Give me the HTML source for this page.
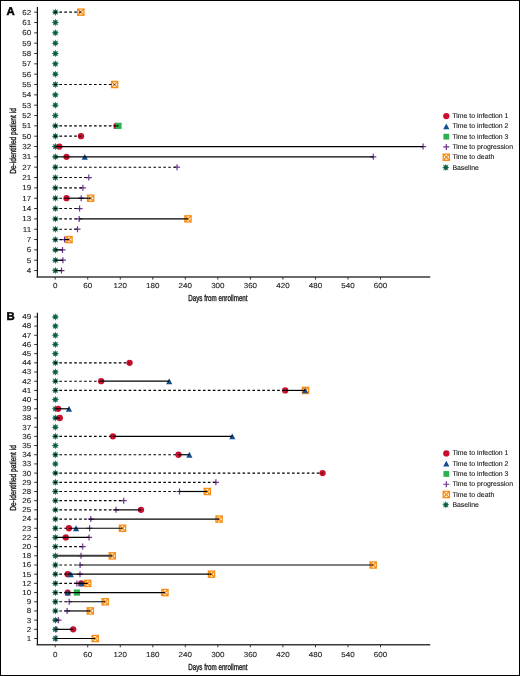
<!DOCTYPE html>
<html><head><meta charset="utf-8"><style>
html,body{margin:0;padding:0;background:#fff;}
body{width:520px;height:676px;overflow:hidden;}
svg{display:block;will-change:transform;}
text{font-family:"Liberation Sans",sans-serif;text-rendering:geometricPrecision;}
.tl{font-size:7.3px;fill:#222;stroke:#222;stroke-width:0.1px;}
.lg{font-size:6.9px;fill:#222;stroke:#222;stroke-width:0.12px;}
.ax{font-size:8.8px;fill:#1a1a1a;stroke:#1a1a1a;stroke-width:0.35px;}
.lt{font-size:11.4px;font-weight:bold;fill:#000;stroke:#000;stroke-width:0.45px;}
</style></head><body>
<svg width="520" height="676" viewBox="0 0 520 676">
<rect x="0.5" y="0.5" width="519" height="675" fill="#fff" stroke="#000" stroke-width="1"/>
<line x1="37.4" y1="7.0" x2="37.4" y2="277.6" stroke="#111" stroke-width="1.2"/>
<line x1="36.6" y1="277.0" x2="430.2" y2="277.0" stroke="#3a3a3a" stroke-width="1.5"/>
<line x1="34.2" y1="12.16" x2="37.2" y2="12.16" stroke="#333" stroke-width="1"/>
<text transform="translate(31.2,14.56) scale(1.1,1)" class="tl" text-anchor="end">62</text>
<line x1="34.2" y1="22.50" x2="37.2" y2="22.50" stroke="#333" stroke-width="1"/>
<text transform="translate(31.2,24.90) scale(1.1,1)" class="tl" text-anchor="end">61</text>
<line x1="34.2" y1="32.83" x2="37.2" y2="32.83" stroke="#333" stroke-width="1"/>
<text transform="translate(31.2,35.23) scale(1.1,1)" class="tl" text-anchor="end">60</text>
<line x1="34.2" y1="43.17" x2="37.2" y2="43.17" stroke="#333" stroke-width="1"/>
<text transform="translate(31.2,45.57) scale(1.1,1)" class="tl" text-anchor="end">59</text>
<line x1="34.2" y1="53.50" x2="37.2" y2="53.50" stroke="#333" stroke-width="1"/>
<text transform="translate(31.2,55.90) scale(1.1,1)" class="tl" text-anchor="end">58</text>
<line x1="34.2" y1="63.84" x2="37.2" y2="63.84" stroke="#333" stroke-width="1"/>
<text transform="translate(31.2,66.24) scale(1.1,1)" class="tl" text-anchor="end">57</text>
<line x1="34.2" y1="74.18" x2="37.2" y2="74.18" stroke="#333" stroke-width="1"/>
<text transform="translate(31.2,76.58) scale(1.1,1)" class="tl" text-anchor="end">56</text>
<line x1="34.2" y1="84.51" x2="37.2" y2="84.51" stroke="#333" stroke-width="1"/>
<text transform="translate(31.2,86.91) scale(1.1,1)" class="tl" text-anchor="end">55</text>
<line x1="34.2" y1="94.85" x2="37.2" y2="94.85" stroke="#333" stroke-width="1"/>
<text transform="translate(31.2,97.25) scale(1.1,1)" class="tl" text-anchor="end">54</text>
<line x1="34.2" y1="105.18" x2="37.2" y2="105.18" stroke="#333" stroke-width="1"/>
<text transform="translate(31.2,107.58) scale(1.1,1)" class="tl" text-anchor="end">53</text>
<line x1="34.2" y1="115.52" x2="37.2" y2="115.52" stroke="#333" stroke-width="1"/>
<text transform="translate(31.2,117.92) scale(1.1,1)" class="tl" text-anchor="end">52</text>
<line x1="34.2" y1="125.86" x2="37.2" y2="125.86" stroke="#333" stroke-width="1"/>
<text transform="translate(31.2,128.26) scale(1.1,1)" class="tl" text-anchor="end">51</text>
<line x1="34.2" y1="136.19" x2="37.2" y2="136.19" stroke="#333" stroke-width="1"/>
<text transform="translate(31.2,138.59) scale(1.1,1)" class="tl" text-anchor="end">50</text>
<line x1="34.2" y1="146.53" x2="37.2" y2="146.53" stroke="#333" stroke-width="1"/>
<text transform="translate(31.2,148.93) scale(1.1,1)" class="tl" text-anchor="end">32</text>
<line x1="34.2" y1="156.86" x2="37.2" y2="156.86" stroke="#333" stroke-width="1"/>
<text transform="translate(31.2,159.26) scale(1.1,1)" class="tl" text-anchor="end">31</text>
<line x1="34.2" y1="167.20" x2="37.2" y2="167.20" stroke="#333" stroke-width="1"/>
<text transform="translate(31.2,169.60) scale(1.1,1)" class="tl" text-anchor="end">27</text>
<line x1="34.2" y1="177.54" x2="37.2" y2="177.54" stroke="#333" stroke-width="1"/>
<text transform="translate(31.2,179.94) scale(1.1,1)" class="tl" text-anchor="end">21</text>
<line x1="34.2" y1="187.87" x2="37.2" y2="187.87" stroke="#333" stroke-width="1"/>
<text transform="translate(31.2,190.27) scale(1.1,1)" class="tl" text-anchor="end">19</text>
<line x1="34.2" y1="198.21" x2="37.2" y2="198.21" stroke="#333" stroke-width="1"/>
<text transform="translate(31.2,200.61) scale(1.1,1)" class="tl" text-anchor="end">17</text>
<line x1="34.2" y1="208.54" x2="37.2" y2="208.54" stroke="#333" stroke-width="1"/>
<text transform="translate(31.2,210.94) scale(1.1,1)" class="tl" text-anchor="end">14</text>
<line x1="34.2" y1="218.88" x2="37.2" y2="218.88" stroke="#333" stroke-width="1"/>
<text transform="translate(31.2,221.28) scale(1.1,1)" class="tl" text-anchor="end">13</text>
<line x1="34.2" y1="229.22" x2="37.2" y2="229.22" stroke="#333" stroke-width="1"/>
<text transform="translate(31.2,231.62) scale(1.1,1)" class="tl" text-anchor="end">11</text>
<line x1="34.2" y1="239.55" x2="37.2" y2="239.55" stroke="#333" stroke-width="1"/>
<text transform="translate(31.2,241.95) scale(1.1,1)" class="tl" text-anchor="end">7</text>
<line x1="34.2" y1="249.89" x2="37.2" y2="249.89" stroke="#333" stroke-width="1"/>
<text transform="translate(31.2,252.29) scale(1.1,1)" class="tl" text-anchor="end">6</text>
<line x1="34.2" y1="260.22" x2="37.2" y2="260.22" stroke="#333" stroke-width="1"/>
<text transform="translate(31.2,262.62) scale(1.1,1)" class="tl" text-anchor="end">5</text>
<line x1="34.2" y1="270.56" x2="37.2" y2="270.56" stroke="#333" stroke-width="1"/>
<text transform="translate(31.2,272.96) scale(1.1,1)" class="tl" text-anchor="end">4</text>
<line x1="55.20" y1="277.0" x2="55.20" y2="279.6" stroke="#333" stroke-width="1"/>
<text transform="translate(55.20,288.20) scale(1.1,1)" class="tl" text-anchor="middle">0</text>
<line x1="87.73" y1="277.0" x2="87.73" y2="279.6" stroke="#333" stroke-width="1"/>
<text transform="translate(87.73,288.20) scale(1.1,1)" class="tl" text-anchor="middle">60</text>
<line x1="120.26" y1="277.0" x2="120.26" y2="279.6" stroke="#333" stroke-width="1"/>
<text transform="translate(120.26,288.20) scale(1.1,1)" class="tl" text-anchor="middle">120</text>
<line x1="152.79" y1="277.0" x2="152.79" y2="279.6" stroke="#333" stroke-width="1"/>
<text transform="translate(152.79,288.20) scale(1.1,1)" class="tl" text-anchor="middle">180</text>
<line x1="185.32" y1="277.0" x2="185.32" y2="279.6" stroke="#333" stroke-width="1"/>
<text transform="translate(185.32,288.20) scale(1.1,1)" class="tl" text-anchor="middle">240</text>
<line x1="217.85" y1="277.0" x2="217.85" y2="279.6" stroke="#333" stroke-width="1"/>
<text transform="translate(217.85,288.20) scale(1.1,1)" class="tl" text-anchor="middle">300</text>
<line x1="250.38" y1="277.0" x2="250.38" y2="279.6" stroke="#333" stroke-width="1"/>
<text transform="translate(250.38,288.20) scale(1.1,1)" class="tl" text-anchor="middle">360</text>
<line x1="282.91" y1="277.0" x2="282.91" y2="279.6" stroke="#333" stroke-width="1"/>
<text transform="translate(282.91,288.20) scale(1.1,1)" class="tl" text-anchor="middle">420</text>
<line x1="315.44" y1="277.0" x2="315.44" y2="279.6" stroke="#333" stroke-width="1"/>
<text transform="translate(315.44,288.20) scale(1.1,1)" class="tl" text-anchor="middle">480</text>
<line x1="347.97" y1="277.0" x2="347.97" y2="279.6" stroke="#333" stroke-width="1"/>
<text transform="translate(347.97,288.20) scale(1.1,1)" class="tl" text-anchor="middle">540</text>
<line x1="380.50" y1="277.0" x2="380.50" y2="279.6" stroke="#333" stroke-width="1"/>
<text transform="translate(380.50,288.20) scale(1.1,1)" class="tl" text-anchor="middle">600</text>
<polygon points="55.35,8.41 56.13,10.27 58.00,9.51 57.24,11.38 59.10,12.16 57.24,12.94 58.00,14.81 56.13,14.05 55.35,15.91 54.57,14.05 52.70,14.81 53.46,12.94 51.60,12.16 53.46,11.38 52.70,9.51 54.57,10.27" fill="#1e7360"/><circle cx="55.35" cy="12.16" r="1.5" fill="#0b5a3f"/>
<rect x="77.70" y="9.06" width="6.20" height="6.20" fill="#fff" stroke="#f88d14" stroke-width="1.3"/><path d="M77.70,9.06L83.90,15.26M83.90,9.06L77.70,15.26" stroke="#f88d14" stroke-width="1.35"/>
<line x1="54.40" y1="12.16" x2="80.80" y2="12.16" stroke="#000" stroke-width="1.15" stroke-dasharray="2.65 2.3"/>
<polygon points="55.35,18.75 56.13,20.60 58.00,19.84 57.24,21.71 59.10,22.50 57.24,23.28 58.00,25.15 56.13,24.39 55.35,26.25 54.57,24.39 52.70,25.15 53.46,23.28 51.60,22.50 53.46,21.71 52.70,19.84 54.57,20.60" fill="#1e7360"/><circle cx="55.35" cy="22.50" r="1.5" fill="#0b5a3f"/>
<polygon points="55.35,29.08 56.13,30.94 58.00,30.18 57.24,32.05 59.10,32.83 57.24,33.62 58.00,35.48 56.13,34.73 55.35,36.58 54.57,34.73 52.70,35.48 53.46,33.62 51.60,32.83 53.46,32.05 52.70,30.18 54.57,30.94" fill="#1e7360"/><circle cx="55.35" cy="32.83" r="1.5" fill="#0b5a3f"/>
<polygon points="55.35,39.42 56.13,41.27 58.00,40.52 57.24,42.38 59.10,43.17 57.24,43.95 58.00,45.82 56.13,45.06 55.35,46.92 54.57,45.06 52.70,45.82 53.46,43.95 51.60,43.17 53.46,42.38 52.70,40.52 54.57,41.27" fill="#1e7360"/><circle cx="55.35" cy="43.17" r="1.5" fill="#0b5a3f"/>
<polygon points="55.35,49.75 56.13,51.61 58.00,50.85 57.24,52.72 59.10,53.50 57.24,54.29 58.00,56.16 56.13,55.40 55.35,57.25 54.57,55.40 52.70,56.16 53.46,54.29 51.60,53.50 53.46,52.72 52.70,50.85 54.57,51.61" fill="#1e7360"/><circle cx="55.35" cy="53.50" r="1.5" fill="#0b5a3f"/>
<polygon points="55.35,60.09 56.13,61.95 58.00,61.19 57.24,63.06 59.10,63.84 57.24,64.62 58.00,66.49 56.13,65.73 55.35,67.59 54.57,65.73 52.70,66.49 53.46,64.62 51.60,63.84 53.46,63.06 52.70,61.19 54.57,61.95" fill="#1e7360"/><circle cx="55.35" cy="63.84" r="1.5" fill="#0b5a3f"/>
<polygon points="55.35,70.43 56.13,72.28 58.00,71.52 57.24,73.39 59.10,74.18 57.24,74.96 58.00,76.83 56.13,76.07 55.35,77.93 54.57,76.07 52.70,76.83 53.46,74.96 51.60,74.18 53.46,73.39 52.70,71.52 54.57,72.28" fill="#1e7360"/><circle cx="55.35" cy="74.18" r="1.5" fill="#0b5a3f"/>
<polygon points="55.35,80.76 56.13,82.62 58.00,81.86 57.24,83.73 59.10,84.51 57.24,85.30 58.00,87.16 56.13,86.41 55.35,88.26 54.57,86.41 52.70,87.16 53.46,85.30 51.60,84.51 53.46,83.73 52.70,81.86 54.57,82.62" fill="#1e7360"/><circle cx="55.35" cy="84.51" r="1.5" fill="#0b5a3f"/>
<rect x="111.50" y="81.41" width="6.20" height="6.20" fill="#fff" stroke="#f88d14" stroke-width="1.3"/><path d="M111.50,81.41L117.70,87.61M117.70,81.41L111.50,87.61" stroke="#f88d14" stroke-width="1.35"/>
<line x1="54.40" y1="84.51" x2="114.60" y2="84.51" stroke="#000" stroke-width="1.15" stroke-dasharray="2.65 2.3"/>
<polygon points="55.35,91.10 56.13,92.95 58.00,92.20 57.24,94.06 59.10,94.85 57.24,95.63 58.00,97.50 56.13,96.74 55.35,98.60 54.57,96.74 52.70,97.50 53.46,95.63 51.60,94.85 53.46,94.06 52.70,92.20 54.57,92.95" fill="#1e7360"/><circle cx="55.35" cy="94.85" r="1.5" fill="#0b5a3f"/>
<polygon points="55.35,101.43 56.13,103.29 58.00,102.53 57.24,104.40 59.10,105.18 57.24,105.97 58.00,107.84 56.13,107.08 55.35,108.93 54.57,107.08 52.70,107.84 53.46,105.97 51.60,105.18 53.46,104.40 52.70,102.53 54.57,103.29" fill="#1e7360"/><circle cx="55.35" cy="105.18" r="1.5" fill="#0b5a3f"/>
<polygon points="55.35,111.77 56.13,113.63 58.00,112.87 57.24,114.74 59.10,115.52 57.24,116.30 58.00,118.17 56.13,117.41 55.35,119.27 54.57,117.41 52.70,118.17 53.46,116.30 51.60,115.52 53.46,114.74 52.70,112.87 54.57,113.63" fill="#1e7360"/><circle cx="55.35" cy="115.52" r="1.5" fill="#0b5a3f"/>
<polygon points="55.35,122.11 56.13,123.96 58.00,123.20 57.24,125.07 59.10,125.86 57.24,126.64 58.00,128.51 56.13,127.75 55.35,129.61 54.57,127.75 52.70,128.51 53.46,126.64 51.60,125.86 53.46,125.07 52.70,123.20 54.57,123.96" fill="#1e7360"/><circle cx="55.35" cy="125.86" r="1.5" fill="#0b5a3f"/>
<polygon points="113.40,128.80 119.60,128.80 116.50,122.91" fill="#124e90"/>
<circle cx="116.50" cy="125.86" r="3.15" fill="#c8102e"/>
<rect x="115.40" y="122.76" width="6.2" height="6.2" fill="#2bb24c"/>
<line x1="54.40" y1="125.86" x2="116.50" y2="125.86" stroke="#000" stroke-width="1.15" stroke-dasharray="2.65 2.3"/>
<line x1="116.50" y1="125.86" x2="118.50" y2="125.86" stroke="#000" stroke-width="1.2"/>
<polygon points="55.35,132.44 56.13,134.30 58.00,133.54 57.24,135.41 59.10,136.19 57.24,136.98 58.00,138.84 56.13,138.09 55.35,139.94 54.57,138.09 52.70,138.84 53.46,136.98 51.60,136.19 53.46,135.41 52.70,133.54 54.57,134.30" fill="#1e7360"/><circle cx="55.35" cy="136.19" r="1.5" fill="#0b5a3f"/>
<circle cx="81.00" cy="136.19" r="3.15" fill="#c8102e"/>
<line x1="54.40" y1="136.19" x2="81.00" y2="136.19" stroke="#000" stroke-width="1.15" stroke-dasharray="2.65 2.3"/>
<polygon points="55.35,142.78 56.13,144.63 58.00,143.88 57.24,145.74 59.10,146.53 57.24,147.31 58.00,149.18 56.13,148.42 55.35,150.28 54.57,148.42 52.70,149.18 53.46,147.31 51.60,146.53 53.46,145.74 52.70,143.88 54.57,144.63" fill="#1e7360"/><circle cx="55.35" cy="146.53" r="1.5" fill="#0b5a3f"/>
<circle cx="59.40" cy="146.53" r="3.15" fill="#c8102e"/>
<path d="M420.10,146.53H426.10M423.10,143.53V149.53" stroke="#6e3290" stroke-width="1.2" fill="none"/>
<line x1="55.35" y1="146.53" x2="59.40" y2="146.53" stroke="#000" stroke-width="1.2"/>
<line x1="59.40" y1="146.53" x2="423.10" y2="146.53" stroke="#000" stroke-width="1.2"/>
<polygon points="55.35,153.11 56.13,154.97 58.00,154.21 57.24,156.08 59.10,156.86 57.24,157.65 58.00,159.52 56.13,158.76 55.35,160.61 54.57,158.76 52.70,159.52 53.46,157.65 51.60,156.86 53.46,156.08 52.70,154.21 54.57,154.97" fill="#1e7360"/><circle cx="55.35" cy="156.86" r="1.5" fill="#0b5a3f"/>
<circle cx="66.50" cy="156.86" r="3.15" fill="#c8102e"/>
<polygon points="81.70,159.81 87.90,159.81 84.80,153.92" fill="#124e90"/>
<path d="M370.30,156.86H376.30M373.30,153.86V159.86" stroke="#6e3290" stroke-width="1.2" fill="none"/>
<line x1="55.35" y1="156.86" x2="66.50" y2="156.86" stroke="#000" stroke-width="1.2"/>
<line x1="66.50" y1="156.86" x2="373.30" y2="156.86" stroke="#000" stroke-width="1.2"/>
<polygon points="55.35,163.45 56.13,165.31 58.00,164.55 57.24,166.42 59.10,167.20 57.24,167.98 58.00,169.85 56.13,169.09 55.35,170.95 54.57,169.09 52.70,169.85 53.46,167.98 51.60,167.20 53.46,166.42 52.70,164.55 54.57,165.31" fill="#1e7360"/><circle cx="55.35" cy="167.20" r="1.5" fill="#0b5a3f"/>
<path d="M174.00,167.20H180.00M177.00,164.20V170.20" stroke="#6e3290" stroke-width="1.2" fill="none"/>
<line x1="54.40" y1="167.20" x2="177.00" y2="167.20" stroke="#000" stroke-width="1.15" stroke-dasharray="2.65 2.3"/>
<polygon points="55.35,173.79 56.13,175.64 58.00,174.88 57.24,176.75 59.10,177.54 57.24,178.32 58.00,180.19 56.13,179.43 55.35,181.29 54.57,179.43 52.70,180.19 53.46,178.32 51.60,177.54 53.46,176.75 52.70,174.88 54.57,175.64" fill="#1e7360"/><circle cx="55.35" cy="177.54" r="1.5" fill="#0b5a3f"/>
<path d="M85.80,177.54H91.80M88.80,174.54V180.54" stroke="#6e3290" stroke-width="1.2" fill="none"/>
<line x1="54.40" y1="177.54" x2="88.80" y2="177.54" stroke="#000" stroke-width="1.15" stroke-dasharray="2.65 2.3"/>
<polygon points="55.35,184.12 56.13,185.98 58.00,185.22 57.24,187.09 59.10,187.87 57.24,188.66 58.00,190.52 56.13,189.77 55.35,191.62 54.57,189.77 52.70,190.52 53.46,188.66 51.60,187.87 53.46,187.09 52.70,185.22 54.57,185.98" fill="#1e7360"/><circle cx="55.35" cy="187.87" r="1.5" fill="#0b5a3f"/>
<path d="M79.90,187.87H85.90M82.90,184.87V190.87" stroke="#6e3290" stroke-width="1.2" fill="none"/>
<line x1="54.40" y1="187.87" x2="82.90" y2="187.87" stroke="#000" stroke-width="1.15" stroke-dasharray="2.65 2.3"/>
<polygon points="55.35,194.46 56.13,196.31 58.00,195.56 57.24,197.42 59.10,198.21 57.24,198.99 58.00,200.86 56.13,200.10 55.35,201.96 54.57,200.10 52.70,200.86 53.46,198.99 51.60,198.21 53.46,197.42 52.70,195.56 54.57,196.31" fill="#1e7360"/><circle cx="55.35" cy="198.21" r="1.5" fill="#0b5a3f"/>
<rect x="87.50" y="195.11" width="6.20" height="6.20" fill="#fff" stroke="#f88d14" stroke-width="1.3"/><path d="M87.50,195.11L93.70,201.31M93.70,195.11L87.50,201.31" stroke="#f88d14" stroke-width="1.35"/>
<circle cx="66.50" cy="198.21" r="3.15" fill="#c8102e"/>
<path d="M78.20,198.21H84.20M81.20,195.21V201.21" stroke="#6e3290" stroke-width="1.2" fill="none"/>
<line x1="54.40" y1="198.21" x2="66.50" y2="198.21" stroke="#000" stroke-width="1.15" stroke-dasharray="2.65 2.3"/>
<line x1="66.50" y1="198.21" x2="90.60" y2="198.21" stroke="#000" stroke-width="1.2"/>
<polygon points="55.35,204.79 56.13,206.65 58.00,205.89 57.24,207.76 59.10,208.54 57.24,209.33 58.00,211.20 56.13,210.44 55.35,212.29 54.57,210.44 52.70,211.20 53.46,209.33 51.60,208.54 53.46,207.76 52.70,205.89 54.57,206.65" fill="#1e7360"/><circle cx="55.35" cy="208.54" r="1.5" fill="#0b5a3f"/>
<path d="M76.60,208.54H82.60M79.60,205.54V211.54" stroke="#6e3290" stroke-width="1.2" fill="none"/>
<line x1="54.40" y1="208.54" x2="79.60" y2="208.54" stroke="#000" stroke-width="1.15" stroke-dasharray="2.65 2.3"/>
<polygon points="55.35,215.13 56.13,216.99 58.00,216.23 57.24,218.10 59.10,218.88 57.24,219.66 58.00,221.53 56.13,220.77 55.35,222.63 54.57,220.77 52.70,221.53 53.46,219.66 51.60,218.88 53.46,218.10 52.70,216.23 54.57,216.99" fill="#1e7360"/><circle cx="55.35" cy="218.88" r="1.5" fill="#0b5a3f"/>
<rect x="184.90" y="215.78" width="6.20" height="6.20" fill="#fff" stroke="#f88d14" stroke-width="1.3"/><path d="M184.90,215.78L191.10,221.98M191.10,215.78L184.90,221.98" stroke="#f88d14" stroke-width="1.35"/>
<path d="M76.20,218.88H82.20M79.20,215.88V221.88" stroke="#6e3290" stroke-width="1.2" fill="none"/>
<line x1="54.40" y1="218.88" x2="79.20" y2="218.88" stroke="#000" stroke-width="1.15" stroke-dasharray="2.65 2.3"/>
<line x1="79.20" y1="218.88" x2="188.00" y2="218.88" stroke="#000" stroke-width="1.2"/>
<polygon points="55.35,225.47 56.13,227.32 58.00,226.56 57.24,228.43 59.10,229.22 57.24,230.00 58.00,231.87 56.13,231.11 55.35,232.97 54.57,231.11 52.70,231.87 53.46,230.00 51.60,229.22 53.46,228.43 52.70,226.56 54.57,227.32" fill="#1e7360"/><circle cx="55.35" cy="229.22" r="1.5" fill="#0b5a3f"/>
<path d="M74.50,229.22H80.50M77.50,226.22V232.22" stroke="#6e3290" stroke-width="1.2" fill="none"/>
<line x1="54.40" y1="229.22" x2="77.50" y2="229.22" stroke="#000" stroke-width="1.15" stroke-dasharray="2.65 2.3"/>
<polygon points="55.35,235.80 56.13,237.66 58.00,236.90 57.24,238.77 59.10,239.55 57.24,240.34 58.00,242.20 56.13,241.45 55.35,243.30 54.57,241.45 52.70,242.20 53.46,240.34 51.60,239.55 53.46,238.77 52.70,236.90 54.57,237.66" fill="#1e7360"/><circle cx="55.35" cy="239.55" r="1.5" fill="#0b5a3f"/>
<path d="M61.60,239.55H67.60M64.60,236.55V242.55" stroke="#6e3290" stroke-width="1.2" fill="none"/>
<rect x="65.90" y="236.45" width="6.20" height="6.20" fill="#fff" stroke="#f88d14" stroke-width="1.3"/><path d="M65.90,236.45L72.10,242.65M72.10,236.45L65.90,242.65" stroke="#f88d14" stroke-width="1.35"/>
<line x1="54.40" y1="239.55" x2="64.60" y2="239.55" stroke="#000" stroke-width="1.15" stroke-dasharray="2.65 2.3"/>
<line x1="64.60" y1="239.55" x2="69.00" y2="239.55" stroke="#000" stroke-width="1.2"/>
<polygon points="55.35,246.14 56.13,247.99 58.00,247.24 57.24,249.10 59.10,249.89 57.24,250.67 58.00,252.54 56.13,251.78 55.35,253.64 54.57,251.78 52.70,252.54 53.46,250.67 51.60,249.89 53.46,249.10 52.70,247.24 54.57,247.99" fill="#1e7360"/><circle cx="55.35" cy="249.89" r="1.5" fill="#0b5a3f"/>
<path d="M59.50,249.89H65.50M62.50,246.89V252.89" stroke="#6e3290" stroke-width="1.2" fill="none"/>
<line x1="55.35" y1="249.89" x2="62.50" y2="249.89" stroke="#000" stroke-width="1.2"/>
<polygon points="55.35,256.47 56.13,258.33 58.00,257.57 57.24,259.44 59.10,260.22 57.24,261.01 58.00,262.88 56.13,262.12 55.35,263.97 54.57,262.12 52.70,262.88 53.46,261.01 51.60,260.22 53.46,259.44 52.70,257.57 54.57,258.33" fill="#1e7360"/><circle cx="55.35" cy="260.22" r="1.5" fill="#0b5a3f"/>
<path d="M59.90,260.22H65.90M62.90,257.22V263.22" stroke="#6e3290" stroke-width="1.2" fill="none"/>
<line x1="55.35" y1="260.22" x2="62.90" y2="260.22" stroke="#000" stroke-width="1.2"/>
<polygon points="55.35,266.81 56.13,268.67 58.00,267.91 57.24,269.78 59.10,270.56 57.24,271.34 58.00,273.21 56.13,272.45 55.35,274.31 54.57,272.45 52.70,273.21 53.46,271.34 51.60,270.56 53.46,269.78 52.70,267.91 54.57,268.67" fill="#1e7360"/><circle cx="55.35" cy="270.56" r="1.5" fill="#0b5a3f"/>
<path d="M58.50,270.56H64.50M61.50,267.56V273.56" stroke="#6e3290" stroke-width="1.2" fill="none"/>
<line x1="55.35" y1="270.56" x2="61.50" y2="270.56" stroke="#000" stroke-width="1.2"/>
<text x="6.6" y="14.9" class="lt">A</text>
<text transform="translate(15.5,141.0) rotate(-90) scale(0.75,1)" class="ax" text-anchor="middle">De-identified patient id</text>
<text transform="translate(217.9,300.60) scale(0.71,1)" class="ax" text-anchor="middle">Days from enrollment</text>
<circle cx="446.30" cy="116.10" r="3.15" fill="#c8102e"/>
<text x="452.4" y="118.10" class="lg">Time to infection 1</text>
<polygon points="443.20,129.32 449.40,129.32 446.30,123.44" fill="#124e90"/>
<text x="452.4" y="128.38" class="lg">Time to infection 2</text>
<rect x="443.40" y="133.76" width="5.8" height="5.8" fill="#2bb24c"/>
<text x="452.4" y="138.66" class="lg">Time to infection 3</text>
<path d="M443.30,146.94H449.30M446.30,143.94V149.94" stroke="#6e3290" stroke-width="1.2" fill="none"/>
<text x="452.4" y="148.94" class="lg">Time to progression</text>
<rect x="443.20" y="154.12" width="6.20" height="6.20" fill="#fff" stroke="#f88d14" stroke-width="1.3"/><path d="M443.20,154.12L449.40,160.32M449.40,154.12L443.20,160.32" stroke="#f88d14" stroke-width="1.35"/>
<text x="452.4" y="159.22" class="lg">Time to death</text>
<polygon points="445.80,163.75 446.58,165.61 448.45,164.85 447.69,166.72 449.55,167.50 447.69,168.28 448.45,170.15 446.58,169.39 445.80,171.25 445.02,169.39 443.15,170.15 443.91,168.28 442.05,167.50 443.91,166.72 443.15,164.85 445.02,165.61" fill="#1e7360"/><circle cx="445.80" cy="167.50" r="1.5" fill="#0b5a3f"/>
<text x="452.4" y="169.50" class="lg">Baseline</text>
<line x1="37.4" y1="312.7" x2="37.4" y2="645.3000000000001" stroke="#111" stroke-width="1.2"/>
<line x1="36.6" y1="644.7" x2="430.2" y2="644.7" stroke="#3a3a3a" stroke-width="1.5"/>
<line x1="34.2" y1="316.90" x2="37.2" y2="316.90" stroke="#333" stroke-width="1"/>
<text transform="translate(31.2,319.30) scale(1.1,1)" class="tl" text-anchor="end">49</text>
<line x1="34.2" y1="326.09" x2="37.2" y2="326.09" stroke="#333" stroke-width="1"/>
<text transform="translate(31.2,328.49) scale(1.1,1)" class="tl" text-anchor="end">48</text>
<line x1="34.2" y1="335.28" x2="37.2" y2="335.28" stroke="#333" stroke-width="1"/>
<text transform="translate(31.2,337.68) scale(1.1,1)" class="tl" text-anchor="end">47</text>
<line x1="34.2" y1="344.47" x2="37.2" y2="344.47" stroke="#333" stroke-width="1"/>
<text transform="translate(31.2,346.87) scale(1.1,1)" class="tl" text-anchor="end">46</text>
<line x1="34.2" y1="353.66" x2="37.2" y2="353.66" stroke="#333" stroke-width="1"/>
<text transform="translate(31.2,356.06) scale(1.1,1)" class="tl" text-anchor="end">45</text>
<line x1="34.2" y1="362.84" x2="37.2" y2="362.84" stroke="#333" stroke-width="1"/>
<text transform="translate(31.2,365.24) scale(1.1,1)" class="tl" text-anchor="end">44</text>
<line x1="34.2" y1="372.03" x2="37.2" y2="372.03" stroke="#333" stroke-width="1"/>
<text transform="translate(31.2,374.43) scale(1.1,1)" class="tl" text-anchor="end">43</text>
<line x1="34.2" y1="381.22" x2="37.2" y2="381.22" stroke="#333" stroke-width="1"/>
<text transform="translate(31.2,383.62) scale(1.1,1)" class="tl" text-anchor="end">42</text>
<line x1="34.2" y1="390.41" x2="37.2" y2="390.41" stroke="#333" stroke-width="1"/>
<text transform="translate(31.2,392.81) scale(1.1,1)" class="tl" text-anchor="end">41</text>
<line x1="34.2" y1="399.60" x2="37.2" y2="399.60" stroke="#333" stroke-width="1"/>
<text transform="translate(31.2,402.00) scale(1.1,1)" class="tl" text-anchor="end">40</text>
<line x1="34.2" y1="408.79" x2="37.2" y2="408.79" stroke="#333" stroke-width="1"/>
<text transform="translate(31.2,411.19) scale(1.1,1)" class="tl" text-anchor="end">39</text>
<line x1="34.2" y1="417.98" x2="37.2" y2="417.98" stroke="#333" stroke-width="1"/>
<text transform="translate(31.2,420.38) scale(1.1,1)" class="tl" text-anchor="end">38</text>
<line x1="34.2" y1="427.17" x2="37.2" y2="427.17" stroke="#333" stroke-width="1"/>
<text transform="translate(31.2,429.57) scale(1.1,1)" class="tl" text-anchor="end">37</text>
<line x1="34.2" y1="436.36" x2="37.2" y2="436.36" stroke="#333" stroke-width="1"/>
<text transform="translate(31.2,438.76) scale(1.1,1)" class="tl" text-anchor="end">36</text>
<line x1="34.2" y1="445.55" x2="37.2" y2="445.55" stroke="#333" stroke-width="1"/>
<text transform="translate(31.2,447.95) scale(1.1,1)" class="tl" text-anchor="end">35</text>
<line x1="34.2" y1="454.74" x2="37.2" y2="454.74" stroke="#333" stroke-width="1"/>
<text transform="translate(31.2,457.13) scale(1.1,1)" class="tl" text-anchor="end">34</text>
<line x1="34.2" y1="463.92" x2="37.2" y2="463.92" stroke="#333" stroke-width="1"/>
<text transform="translate(31.2,466.32) scale(1.1,1)" class="tl" text-anchor="end">33</text>
<line x1="34.2" y1="473.11" x2="37.2" y2="473.11" stroke="#333" stroke-width="1"/>
<text transform="translate(31.2,475.51) scale(1.1,1)" class="tl" text-anchor="end">30</text>
<line x1="34.2" y1="482.30" x2="37.2" y2="482.30" stroke="#333" stroke-width="1"/>
<text transform="translate(31.2,484.70) scale(1.1,1)" class="tl" text-anchor="end">29</text>
<line x1="34.2" y1="491.49" x2="37.2" y2="491.49" stroke="#333" stroke-width="1"/>
<text transform="translate(31.2,493.89) scale(1.1,1)" class="tl" text-anchor="end">28</text>
<line x1="34.2" y1="500.68" x2="37.2" y2="500.68" stroke="#333" stroke-width="1"/>
<text transform="translate(31.2,503.08) scale(1.1,1)" class="tl" text-anchor="end">26</text>
<line x1="34.2" y1="509.87" x2="37.2" y2="509.87" stroke="#333" stroke-width="1"/>
<text transform="translate(31.2,512.27) scale(1.1,1)" class="tl" text-anchor="end">25</text>
<line x1="34.2" y1="519.06" x2="37.2" y2="519.06" stroke="#333" stroke-width="1"/>
<text transform="translate(31.2,521.46) scale(1.1,1)" class="tl" text-anchor="end">24</text>
<line x1="34.2" y1="528.25" x2="37.2" y2="528.25" stroke="#333" stroke-width="1"/>
<text transform="translate(31.2,530.65) scale(1.1,1)" class="tl" text-anchor="end">23</text>
<line x1="34.2" y1="537.44" x2="37.2" y2="537.44" stroke="#333" stroke-width="1"/>
<text transform="translate(31.2,539.84) scale(1.1,1)" class="tl" text-anchor="end">22</text>
<line x1="34.2" y1="546.62" x2="37.2" y2="546.62" stroke="#333" stroke-width="1"/>
<text transform="translate(31.2,549.02) scale(1.1,1)" class="tl" text-anchor="end">20</text>
<line x1="34.2" y1="555.81" x2="37.2" y2="555.81" stroke="#333" stroke-width="1"/>
<text transform="translate(31.2,558.21) scale(1.1,1)" class="tl" text-anchor="end">18</text>
<line x1="34.2" y1="565.00" x2="37.2" y2="565.00" stroke="#333" stroke-width="1"/>
<text transform="translate(31.2,567.40) scale(1.1,1)" class="tl" text-anchor="end">16</text>
<line x1="34.2" y1="574.19" x2="37.2" y2="574.19" stroke="#333" stroke-width="1"/>
<text transform="translate(31.2,576.59) scale(1.1,1)" class="tl" text-anchor="end">15</text>
<line x1="34.2" y1="583.38" x2="37.2" y2="583.38" stroke="#333" stroke-width="1"/>
<text transform="translate(31.2,585.78) scale(1.1,1)" class="tl" text-anchor="end">12</text>
<line x1="34.2" y1="592.57" x2="37.2" y2="592.57" stroke="#333" stroke-width="1"/>
<text transform="translate(31.2,594.97) scale(1.1,1)" class="tl" text-anchor="end">10</text>
<line x1="34.2" y1="601.76" x2="37.2" y2="601.76" stroke="#333" stroke-width="1"/>
<text transform="translate(31.2,604.16) scale(1.1,1)" class="tl" text-anchor="end">9</text>
<line x1="34.2" y1="610.95" x2="37.2" y2="610.95" stroke="#333" stroke-width="1"/>
<text transform="translate(31.2,613.35) scale(1.1,1)" class="tl" text-anchor="end">8</text>
<line x1="34.2" y1="620.14" x2="37.2" y2="620.14" stroke="#333" stroke-width="1"/>
<text transform="translate(31.2,622.54) scale(1.1,1)" class="tl" text-anchor="end">3</text>
<line x1="34.2" y1="629.33" x2="37.2" y2="629.33" stroke="#333" stroke-width="1"/>
<text transform="translate(31.2,631.73) scale(1.1,1)" class="tl" text-anchor="end">2</text>
<line x1="34.2" y1="638.51" x2="37.2" y2="638.51" stroke="#333" stroke-width="1"/>
<text transform="translate(31.2,640.91) scale(1.1,1)" class="tl" text-anchor="end">1</text>
<line x1="55.20" y1="644.7" x2="55.20" y2="647.3000000000001" stroke="#333" stroke-width="1"/>
<text transform="translate(55.20,656.50) scale(1.1,1)" class="tl" text-anchor="middle">0</text>
<line x1="87.73" y1="644.7" x2="87.73" y2="647.3000000000001" stroke="#333" stroke-width="1"/>
<text transform="translate(87.73,656.50) scale(1.1,1)" class="tl" text-anchor="middle">60</text>
<line x1="120.26" y1="644.7" x2="120.26" y2="647.3000000000001" stroke="#333" stroke-width="1"/>
<text transform="translate(120.26,656.50) scale(1.1,1)" class="tl" text-anchor="middle">120</text>
<line x1="152.79" y1="644.7" x2="152.79" y2="647.3000000000001" stroke="#333" stroke-width="1"/>
<text transform="translate(152.79,656.50) scale(1.1,1)" class="tl" text-anchor="middle">180</text>
<line x1="185.32" y1="644.7" x2="185.32" y2="647.3000000000001" stroke="#333" stroke-width="1"/>
<text transform="translate(185.32,656.50) scale(1.1,1)" class="tl" text-anchor="middle">240</text>
<line x1="217.85" y1="644.7" x2="217.85" y2="647.3000000000001" stroke="#333" stroke-width="1"/>
<text transform="translate(217.85,656.50) scale(1.1,1)" class="tl" text-anchor="middle">300</text>
<line x1="250.38" y1="644.7" x2="250.38" y2="647.3000000000001" stroke="#333" stroke-width="1"/>
<text transform="translate(250.38,656.50) scale(1.1,1)" class="tl" text-anchor="middle">360</text>
<line x1="282.91" y1="644.7" x2="282.91" y2="647.3000000000001" stroke="#333" stroke-width="1"/>
<text transform="translate(282.91,656.50) scale(1.1,1)" class="tl" text-anchor="middle">420</text>
<line x1="315.44" y1="644.7" x2="315.44" y2="647.3000000000001" stroke="#333" stroke-width="1"/>
<text transform="translate(315.44,656.50) scale(1.1,1)" class="tl" text-anchor="middle">480</text>
<line x1="347.97" y1="644.7" x2="347.97" y2="647.3000000000001" stroke="#333" stroke-width="1"/>
<text transform="translate(347.97,656.50) scale(1.1,1)" class="tl" text-anchor="middle">540</text>
<line x1="380.50" y1="644.7" x2="380.50" y2="647.3000000000001" stroke="#333" stroke-width="1"/>
<text transform="translate(380.50,656.50) scale(1.1,1)" class="tl" text-anchor="middle">600</text>
<polygon points="55.35,313.15 56.13,315.01 58.00,314.25 57.24,316.12 59.10,316.90 57.24,317.68 58.00,319.55 56.13,318.79 55.35,320.65 54.57,318.79 52.70,319.55 53.46,317.68 51.60,316.90 53.46,316.12 52.70,314.25 54.57,315.01" fill="#1e7360"/><circle cx="55.35" cy="316.90" r="1.5" fill="#0b5a3f"/>
<polygon points="55.35,322.34 56.13,324.20 58.00,323.44 57.24,325.30 59.10,326.09 57.24,326.87 58.00,328.74 56.13,327.98 55.35,329.84 54.57,327.98 52.70,328.74 53.46,326.87 51.60,326.09 53.46,325.30 52.70,323.44 54.57,324.20" fill="#1e7360"/><circle cx="55.35" cy="326.09" r="1.5" fill="#0b5a3f"/>
<polygon points="55.35,331.53 56.13,333.38 58.00,332.63 57.24,334.49 59.10,335.28 57.24,336.06 58.00,337.93 56.13,337.17 55.35,339.03 54.57,337.17 52.70,337.93 53.46,336.06 51.60,335.28 53.46,334.49 52.70,332.63 54.57,333.38" fill="#1e7360"/><circle cx="55.35" cy="335.28" r="1.5" fill="#0b5a3f"/>
<polygon points="55.35,340.72 56.13,342.57 58.00,341.82 57.24,343.68 59.10,344.47 57.24,345.25 58.00,347.12 56.13,346.36 55.35,348.22 54.57,346.36 52.70,347.12 53.46,345.25 51.60,344.47 53.46,343.68 52.70,341.82 54.57,342.57" fill="#1e7360"/><circle cx="55.35" cy="344.47" r="1.5" fill="#0b5a3f"/>
<polygon points="55.35,349.91 56.13,351.76 58.00,351.00 57.24,352.87 59.10,353.66 57.24,354.44 58.00,356.31 56.13,355.55 55.35,357.41 54.57,355.55 52.70,356.31 53.46,354.44 51.60,353.66 53.46,352.87 52.70,351.00 54.57,351.76" fill="#1e7360"/><circle cx="55.35" cy="353.66" r="1.5" fill="#0b5a3f"/>
<polygon points="55.35,359.09 56.13,360.95 58.00,360.19 57.24,362.06 59.10,362.84 57.24,363.63 58.00,365.50 56.13,364.74 55.35,366.59 54.57,364.74 52.70,365.50 53.46,363.63 51.60,362.84 53.46,362.06 52.70,360.19 54.57,360.95" fill="#1e7360"/><circle cx="55.35" cy="362.84" r="1.5" fill="#0b5a3f"/>
<circle cx="129.60" cy="362.84" r="3.15" fill="#c8102e"/>
<line x1="54.40" y1="362.84" x2="129.60" y2="362.84" stroke="#000" stroke-width="1.15" stroke-dasharray="2.65 2.3"/>
<polygon points="55.35,368.28 56.13,370.14 58.00,369.38 57.24,371.25 59.10,372.03 57.24,372.82 58.00,374.69 56.13,373.93 55.35,375.78 54.57,373.93 52.70,374.69 53.46,372.82 51.60,372.03 53.46,371.25 52.70,369.38 54.57,370.14" fill="#1e7360"/><circle cx="55.35" cy="372.03" r="1.5" fill="#0b5a3f"/>
<polygon points="55.35,377.47 56.13,379.33 58.00,378.57 57.24,380.44 59.10,381.22 57.24,382.01 58.00,383.87 56.13,383.12 55.35,384.97 54.57,383.12 52.70,383.87 53.46,382.01 51.60,381.22 53.46,380.44 52.70,378.57 54.57,379.33" fill="#1e7360"/><circle cx="55.35" cy="381.22" r="1.5" fill="#0b5a3f"/>
<circle cx="101.20" cy="381.22" r="3.15" fill="#c8102e"/>
<polygon points="166.10,384.17 172.30,384.17 169.20,378.28" fill="#124e90"/>
<line x1="54.40" y1="381.22" x2="101.20" y2="381.22" stroke="#000" stroke-width="1.15" stroke-dasharray="2.65 2.3"/>
<line x1="101.20" y1="381.22" x2="169.20" y2="381.22" stroke="#000" stroke-width="1.2"/>
<polygon points="55.35,386.66 56.13,388.52 58.00,387.76 57.24,389.63 59.10,390.41 57.24,391.20 58.00,393.06 56.13,392.31 55.35,394.16 54.57,392.31 52.70,393.06 53.46,391.20 51.60,390.41 53.46,389.63 52.70,387.76 54.57,388.52" fill="#1e7360"/><circle cx="55.35" cy="390.41" r="1.5" fill="#0b5a3f"/>
<circle cx="285.20" cy="390.41" r="3.15" fill="#c8102e"/>
<rect x="302.40" y="387.31" width="6.20" height="6.20" fill="#fff" stroke="#f88d14" stroke-width="1.3"/><path d="M302.40,387.31L308.60,393.51M308.60,387.31L302.40,393.51" stroke="#f88d14" stroke-width="1.35"/>
<polygon points="302.00,393.36 308.20,393.36 305.10,387.47" fill="#124e90"/>
<line x1="54.40" y1="390.41" x2="285.20" y2="390.41" stroke="#000" stroke-width="1.15" stroke-dasharray="2.65 2.3"/>
<line x1="285.20" y1="390.41" x2="305.30" y2="390.41" stroke="#000" stroke-width="1.2"/>
<polygon points="55.35,395.85 56.13,397.71 58.00,396.95 57.24,398.82 59.10,399.60 57.24,400.39 58.00,402.25 56.13,401.49 55.35,403.35 54.57,401.49 52.70,402.25 53.46,400.39 51.60,399.60 53.46,398.82 52.70,396.95 54.57,397.71" fill="#1e7360"/><circle cx="55.35" cy="399.60" r="1.5" fill="#0b5a3f"/>
<polygon points="55.35,405.04 56.13,406.90 58.00,406.14 57.24,408.01 59.10,408.79 57.24,409.57 58.00,411.44 56.13,410.68 55.35,412.54 54.57,410.68 52.70,411.44 53.46,409.57 51.60,408.79 53.46,408.01 52.70,406.14 54.57,406.90" fill="#1e7360"/><circle cx="55.35" cy="408.79" r="1.5" fill="#0b5a3f"/>
<circle cx="58.10" cy="408.79" r="3.15" fill="#c8102e"/>
<polygon points="65.90,411.73 72.10,411.73 69.00,405.84" fill="#124e90"/>
<line x1="55.35" y1="408.79" x2="69.00" y2="408.79" stroke="#000" stroke-width="1.2"/>
<polygon points="55.35,414.23 56.13,416.09 58.00,415.33 57.24,417.19 59.10,417.98 57.24,418.76 58.00,420.63 56.13,419.87 55.35,421.73 54.57,419.87 52.70,420.63 53.46,418.76 51.60,417.98 53.46,417.19 52.70,415.33 54.57,416.09" fill="#1e7360"/><circle cx="55.35" cy="417.98" r="1.5" fill="#0b5a3f"/>
<circle cx="59.80" cy="417.98" r="3.15" fill="#c8102e"/>
<line x1="55.35" y1="417.98" x2="59.80" y2="417.98" stroke="#000" stroke-width="1.2"/>
<polygon points="55.35,423.42 56.13,425.27 58.00,424.52 57.24,426.38 59.10,427.17 57.24,427.95 58.00,429.82 56.13,429.06 55.35,430.92 54.57,429.06 52.70,429.82 53.46,427.95 51.60,427.17 53.46,426.38 52.70,424.52 54.57,425.27" fill="#1e7360"/><circle cx="55.35" cy="427.17" r="1.5" fill="#0b5a3f"/>
<polygon points="55.35,432.61 56.13,434.46 58.00,433.71 57.24,435.57 59.10,436.36 57.24,437.14 58.00,439.01 56.13,438.25 55.35,440.11 54.57,438.25 52.70,439.01 53.46,437.14 51.60,436.36 53.46,435.57 52.70,433.71 54.57,434.46" fill="#1e7360"/><circle cx="55.35" cy="436.36" r="1.5" fill="#0b5a3f"/>
<circle cx="112.90" cy="436.36" r="3.15" fill="#c8102e"/>
<polygon points="229.20,439.30 235.40,439.30 232.30,433.41" fill="#124e90"/>
<line x1="54.40" y1="436.36" x2="112.90" y2="436.36" stroke="#000" stroke-width="1.15" stroke-dasharray="2.65 2.3"/>
<line x1="112.90" y1="436.36" x2="232.30" y2="436.36" stroke="#000" stroke-width="1.2"/>
<polygon points="55.35,441.80 56.13,443.65 58.00,442.89 57.24,444.76 59.10,445.55 57.24,446.33 58.00,448.20 56.13,447.44 55.35,449.30 54.57,447.44 52.70,448.20 53.46,446.33 51.60,445.55 53.46,444.76 52.70,442.89 54.57,443.65" fill="#1e7360"/><circle cx="55.35" cy="445.55" r="1.5" fill="#0b5a3f"/>
<polygon points="55.35,450.99 56.13,452.84 58.00,452.08 57.24,453.95 59.10,454.74 57.24,455.52 58.00,457.39 56.13,456.63 55.35,458.49 54.57,456.63 52.70,457.39 53.46,455.52 51.60,454.74 53.46,453.95 52.70,452.08 54.57,452.84" fill="#1e7360"/><circle cx="55.35" cy="454.74" r="1.5" fill="#0b5a3f"/>
<circle cx="178.50" cy="454.74" r="3.15" fill="#c8102e"/>
<polygon points="186.30,457.68 192.50,457.68 189.40,451.79" fill="#124e90"/>
<line x1="54.40" y1="454.74" x2="178.50" y2="454.74" stroke="#000" stroke-width="1.15" stroke-dasharray="2.65 2.3"/>
<line x1="178.50" y1="454.74" x2="189.40" y2="454.74" stroke="#000" stroke-width="1.2"/>
<polygon points="55.35,460.17 56.13,462.03 58.00,461.27 57.24,463.14 59.10,463.92 57.24,464.71 58.00,466.58 56.13,465.82 55.35,467.67 54.57,465.82 52.70,466.58 53.46,464.71 51.60,463.92 53.46,463.14 52.70,461.27 54.57,462.03" fill="#1e7360"/><circle cx="55.35" cy="463.92" r="1.5" fill="#0b5a3f"/>
<polygon points="55.35,469.36 56.13,471.22 58.00,470.46 57.24,472.33 59.10,473.11 57.24,473.90 58.00,475.76 56.13,475.01 55.35,476.86 54.57,475.01 52.70,475.76 53.46,473.90 51.60,473.11 53.46,472.33 52.70,470.46 54.57,471.22" fill="#1e7360"/><circle cx="55.35" cy="473.11" r="1.5" fill="#0b5a3f"/>
<circle cx="322.60" cy="473.11" r="3.15" fill="#c8102e"/>
<line x1="54.40" y1="473.11" x2="322.60" y2="473.11" stroke="#000" stroke-width="1.15" stroke-dasharray="2.65 2.3"/>
<polygon points="55.35,478.55 56.13,480.41 58.00,479.65 57.24,481.52 59.10,482.30 57.24,483.09 58.00,484.95 56.13,484.20 55.35,486.05 54.57,484.20 52.70,484.95 53.46,483.09 51.60,482.30 53.46,481.52 52.70,479.65 54.57,480.41" fill="#1e7360"/><circle cx="55.35" cy="482.30" r="1.5" fill="#0b5a3f"/>
<path d="M212.90,482.30H218.90M215.90,479.30V485.30" stroke="#6e3290" stroke-width="1.2" fill="none"/>
<line x1="54.40" y1="482.30" x2="215.90" y2="482.30" stroke="#000" stroke-width="1.15" stroke-dasharray="2.65 2.3"/>
<polygon points="55.35,487.74 56.13,489.60 58.00,488.84 57.24,490.71 59.10,491.49 57.24,492.28 58.00,494.14 56.13,493.38 55.35,495.24 54.57,493.38 52.70,494.14 53.46,492.28 51.60,491.49 53.46,490.71 52.70,488.84 54.57,489.60" fill="#1e7360"/><circle cx="55.35" cy="491.49" r="1.5" fill="#0b5a3f"/>
<path d="M176.50,491.49H182.50M179.50,488.49V494.49" stroke="#6e3290" stroke-width="1.2" fill="none"/>
<rect x="204.20" y="488.39" width="6.20" height="6.20" fill="#fff" stroke="#f88d14" stroke-width="1.3"/><path d="M204.20,488.39L210.40,494.59M210.40,488.39L204.20,494.59" stroke="#f88d14" stroke-width="1.35"/>
<line x1="54.40" y1="491.49" x2="179.50" y2="491.49" stroke="#000" stroke-width="1.15" stroke-dasharray="2.65 2.3"/>
<line x1="179.50" y1="491.49" x2="207.30" y2="491.49" stroke="#000" stroke-width="1.2"/>
<polygon points="55.35,496.93 56.13,498.79 58.00,498.03 57.24,499.90 59.10,500.68 57.24,501.46 58.00,503.33 56.13,502.57 55.35,504.43 54.57,502.57 52.70,503.33 53.46,501.46 51.60,500.68 53.46,499.90 52.70,498.03 54.57,498.79" fill="#1e7360"/><circle cx="55.35" cy="500.68" r="1.5" fill="#0b5a3f"/>
<path d="M120.70,500.68H126.70M123.70,497.68V503.68" stroke="#6e3290" stroke-width="1.2" fill="none"/>
<line x1="54.40" y1="500.68" x2="123.70" y2="500.68" stroke="#000" stroke-width="1.15" stroke-dasharray="2.65 2.3"/>
<polygon points="55.35,506.12 56.13,507.98 58.00,507.22 57.24,509.08 59.10,509.87 57.24,510.65 58.00,512.52 56.13,511.76 55.35,513.62 54.57,511.76 52.70,512.52 53.46,510.65 51.60,509.87 53.46,509.08 52.70,507.22 54.57,507.98" fill="#1e7360"/><circle cx="55.35" cy="509.87" r="1.5" fill="#0b5a3f"/>
<path d="M113.00,509.87H119.00M116.00,506.87V512.87" stroke="#6e3290" stroke-width="1.2" fill="none"/>
<circle cx="141.00" cy="509.87" r="3.15" fill="#c8102e"/>
<line x1="54.40" y1="509.87" x2="116.00" y2="509.87" stroke="#000" stroke-width="1.15" stroke-dasharray="2.65 2.3"/>
<line x1="116.00" y1="509.87" x2="141.00" y2="509.87" stroke="#000" stroke-width="1.2"/>
<polygon points="55.35,515.31 56.13,517.16 58.00,516.41 57.24,518.27 59.10,519.06 57.24,519.84 58.00,521.71 56.13,520.95 55.35,522.81 54.57,520.95 52.70,521.71 53.46,519.84 51.60,519.06 53.46,518.27 52.70,516.41 54.57,517.16" fill="#1e7360"/><circle cx="55.35" cy="519.06" r="1.5" fill="#0b5a3f"/>
<path d="M87.80,519.06H93.80M90.80,516.06V522.06" stroke="#6e3290" stroke-width="1.2" fill="none"/>
<rect x="216.00" y="515.96" width="6.20" height="6.20" fill="#fff" stroke="#f88d14" stroke-width="1.3"/><path d="M216.00,515.96L222.20,522.16M222.20,515.96L216.00,522.16" stroke="#f88d14" stroke-width="1.35"/>
<line x1="54.40" y1="519.06" x2="90.80" y2="519.06" stroke="#000" stroke-width="1.15" stroke-dasharray="2.65 2.3"/>
<line x1="90.80" y1="519.06" x2="219.10" y2="519.06" stroke="#000" stroke-width="1.2"/>
<polygon points="55.35,524.50 56.13,526.35 58.00,525.60 57.24,527.46 59.10,528.25 57.24,529.03 58.00,530.90 56.13,530.14 55.35,532.00 54.57,530.14 52.70,530.90 53.46,529.03 51.60,528.25 53.46,527.46 52.70,525.60 54.57,526.35" fill="#1e7360"/><circle cx="55.35" cy="528.25" r="1.5" fill="#0b5a3f"/>
<rect x="119.40" y="525.15" width="6.20" height="6.20" fill="#fff" stroke="#f88d14" stroke-width="1.3"/><path d="M119.40,525.15L125.60,531.35M125.60,525.15L119.40,531.35" stroke="#f88d14" stroke-width="1.35"/>
<circle cx="68.90" cy="528.25" r="3.15" fill="#c8102e"/>
<polygon points="73.00,531.19 79.20,531.19 76.10,525.30" fill="#124e90"/>
<path d="M86.60,528.25H92.60M89.60,525.25V531.25" stroke="#6e3290" stroke-width="1.2" fill="none"/>
<line x1="54.40" y1="528.25" x2="68.90" y2="528.25" stroke="#000" stroke-width="1.15" stroke-dasharray="2.65 2.3"/>
<line x1="68.90" y1="528.25" x2="122.50" y2="528.25" stroke="#000" stroke-width="1.2"/>
<polygon points="55.35,533.69 56.13,535.54 58.00,534.78 57.24,536.65 59.10,537.44 57.24,538.22 58.00,540.09 56.13,539.33 55.35,541.19 54.57,539.33 52.70,540.09 53.46,538.22 51.60,537.44 53.46,536.65 52.70,534.78 54.57,535.54" fill="#1e7360"/><circle cx="55.35" cy="537.44" r="1.5" fill="#0b5a3f"/>
<circle cx="65.80" cy="537.44" r="3.15" fill="#c8102e"/>
<path d="M86.10,537.44H92.10M89.10,534.44V540.44" stroke="#6e3290" stroke-width="1.2" fill="none"/>
<line x1="55.35" y1="537.44" x2="89.10" y2="537.44" stroke="#000" stroke-width="1.2"/>
<polygon points="55.35,542.88 56.13,544.73 58.00,543.97 57.24,545.84 59.10,546.62 57.24,547.41 58.00,549.28 56.13,548.52 55.35,550.38 54.57,548.52 52.70,549.28 53.46,547.41 51.60,546.62 53.46,545.84 52.70,543.97 54.57,544.73" fill="#1e7360"/><circle cx="55.35" cy="546.62" r="1.5" fill="#0b5a3f"/>
<path d="M79.70,546.62H85.70M82.70,543.62V549.62" stroke="#6e3290" stroke-width="1.2" fill="none"/>
<line x1="54.40" y1="546.62" x2="82.70" y2="546.62" stroke="#000" stroke-width="1.15" stroke-dasharray="2.65 2.3"/>
<polygon points="55.35,552.06 56.13,553.92 58.00,553.16 57.24,555.03 59.10,555.81 57.24,556.60 58.00,558.47 56.13,557.71 55.35,559.56 54.57,557.71 52.70,558.47 53.46,556.60 51.60,555.81 53.46,555.03 52.70,553.16 54.57,553.92" fill="#1e7360"/><circle cx="55.35" cy="555.81" r="1.5" fill="#0b5a3f"/>
<path d="M78.00,555.81H84.00M81.00,552.81V558.81" stroke="#6e3290" stroke-width="1.2" fill="none"/>
<rect x="109.20" y="552.71" width="6.20" height="6.20" fill="#fff" stroke="#f88d14" stroke-width="1.3"/><path d="M109.20,552.71L115.40,558.91M115.40,552.71L109.20,558.91" stroke="#f88d14" stroke-width="1.35"/>
<line x1="55.35" y1="555.81" x2="112.30" y2="555.81" stroke="#3c3c3c" stroke-width="1.9"/>
<polygon points="55.35,561.25 56.13,563.11 58.00,562.35 57.24,564.22 59.10,565.00 57.24,565.79 58.00,567.65 56.13,566.90 55.35,568.75 54.57,566.90 52.70,567.65 53.46,565.79 51.60,565.00 53.46,564.22 52.70,562.35 54.57,563.11" fill="#1e7360"/><circle cx="55.35" cy="565.00" r="1.5" fill="#0b5a3f"/>
<path d="M77.10,565.00H83.10M80.10,562.00V568.00" stroke="#6e3290" stroke-width="1.2" fill="none"/>
<rect x="370.10" y="561.90" width="6.20" height="6.20" fill="#fff" stroke="#f88d14" stroke-width="1.3"/><path d="M370.10,561.90L376.30,568.10M376.30,561.90L370.10,568.10" stroke="#f88d14" stroke-width="1.35"/>
<line x1="54.40" y1="565.00" x2="80.10" y2="565.00" stroke="#000" stroke-width="1.15" stroke-dasharray="2.65 2.3"/>
<line x1="80.10" y1="565.00" x2="373.20" y2="565.00" stroke="#000" stroke-width="1.2"/>
<polygon points="55.35,570.44 56.13,572.30 58.00,571.54 57.24,573.41 59.10,574.19 57.24,574.98 58.00,576.84 56.13,576.09 55.35,577.94 54.57,576.09 52.70,576.84 53.46,574.98 51.60,574.19 53.46,573.41 52.70,571.54 54.57,572.30" fill="#1e7360"/><circle cx="55.35" cy="574.19" r="1.5" fill="#0b5a3f"/>
<rect x="208.40" y="571.09" width="6.20" height="6.20" fill="#fff" stroke="#f88d14" stroke-width="1.3"/><path d="M208.40,571.09L214.60,577.29M214.60,571.09L208.40,577.29" stroke="#f88d14" stroke-width="1.35"/>
<circle cx="67.70" cy="574.19" r="3.15" fill="#c8102e"/>
<polygon points="67.70,577.14 73.90,577.14 70.80,571.25" fill="#124e90"/>
<path d="M77.00,574.19H83.00M80.00,571.19V577.19" stroke="#6e3290" stroke-width="1.2" fill="none"/>
<line x1="54.40" y1="574.19" x2="67.70" y2="574.19" stroke="#000" stroke-width="1.15" stroke-dasharray="2.65 2.3"/>
<line x1="67.70" y1="574.19" x2="211.50" y2="574.19" stroke="#000" stroke-width="1.2"/>
<polygon points="55.35,579.63 56.13,581.49 58.00,580.73 57.24,582.60 59.10,583.38 57.24,584.17 58.00,586.03 56.13,585.27 55.35,587.13 54.57,585.27 52.70,586.03 53.46,584.17 51.60,583.38 53.46,582.60 52.70,580.73 54.57,581.49" fill="#1e7360"/><circle cx="55.35" cy="583.38" r="1.5" fill="#0b5a3f"/>
<rect x="84.60" y="580.28" width="6.20" height="6.20" fill="#fff" stroke="#f88d14" stroke-width="1.3"/><path d="M84.60,580.28L90.80,586.48M90.80,580.28L84.60,586.48" stroke="#f88d14" stroke-width="1.35"/>
<path d="M73.90,583.38H79.90M76.90,580.38V586.38" stroke="#6e3290" stroke-width="1.2" fill="none"/>
<circle cx="81.20" cy="583.38" r="3.15" fill="#c8102e"/>
<polygon points="78.10,586.33 84.30,586.33 81.20,580.44" fill="#124e90"/>
<line x1="54.40" y1="583.38" x2="76.90" y2="583.38" stroke="#000" stroke-width="1.15" stroke-dasharray="2.65 2.3"/>
<line x1="76.90" y1="583.38" x2="87.70" y2="583.38" stroke="#000" stroke-width="1.2"/>
<polygon points="55.35,588.82 56.13,590.68 58.00,589.92 57.24,591.79 59.10,592.57 57.24,593.35 58.00,595.22 56.13,594.46 55.35,596.32 54.57,594.46 52.70,595.22 53.46,593.35 51.60,592.57 53.46,591.79 52.70,589.92 54.57,590.68" fill="#1e7360"/><circle cx="55.35" cy="592.57" r="1.5" fill="#0b5a3f"/>
<rect x="161.80" y="589.47" width="6.20" height="6.20" fill="#fff" stroke="#f88d14" stroke-width="1.3"/><path d="M161.80,589.47L168.00,595.67M168.00,589.47L161.80,595.67" stroke="#f88d14" stroke-width="1.35"/>
<circle cx="67.70" cy="592.57" r="3.15" fill="#c8102e"/>
<polygon points="64.60,595.51 70.80,595.51 67.70,589.62" fill="#124e90"/>
<rect x="73.80" y="589.47" width="6.2" height="6.2" fill="#2bb24c"/>
<line x1="54.40" y1="592.57" x2="67.70" y2="592.57" stroke="#000" stroke-width="1.15" stroke-dasharray="2.65 2.3"/>
<line x1="67.70" y1="592.57" x2="164.90" y2="592.57" stroke="#000" stroke-width="1.2"/>
<polygon points="55.35,598.01 56.13,599.87 58.00,599.11 57.24,600.97 59.10,601.76 57.24,602.54 58.00,604.41 56.13,603.65 55.35,605.51 54.57,603.65 52.70,604.41 53.46,602.54 51.60,601.76 53.46,600.97 52.70,599.11 54.57,599.87" fill="#1e7360"/><circle cx="55.35" cy="601.76" r="1.5" fill="#0b5a3f"/>
<path d="M66.20,601.76H72.20M69.20,598.76V604.76" stroke="#6e3290" stroke-width="1.2" fill="none"/>
<rect x="102.10" y="598.66" width="6.20" height="6.20" fill="#fff" stroke="#f88d14" stroke-width="1.3"/><path d="M102.10,598.66L108.30,604.86M108.30,598.66L102.10,604.86" stroke="#f88d14" stroke-width="1.35"/>
<line x1="54.40" y1="601.76" x2="69.20" y2="601.76" stroke="#000" stroke-width="1.15" stroke-dasharray="2.65 2.3"/>
<line x1="69.20" y1="601.76" x2="105.20" y2="601.76" stroke="#000" stroke-width="1.2"/>
<polygon points="55.35,607.20 56.13,609.05 58.00,608.30 57.24,610.16 59.10,610.95 57.24,611.73 58.00,613.60 56.13,612.84 55.35,614.70 54.57,612.84 52.70,613.60 53.46,611.73 51.60,610.95 53.46,610.16 52.70,608.30 54.57,609.05" fill="#1e7360"/><circle cx="55.35" cy="610.95" r="1.5" fill="#0b5a3f"/>
<path d="M64.10,610.95H70.10M67.10,607.95V613.95" stroke="#6e3290" stroke-width="1.2" fill="none"/>
<rect x="87.20" y="607.85" width="6.20" height="6.20" fill="#fff" stroke="#f88d14" stroke-width="1.3"/><path d="M87.20,607.85L93.40,614.05M93.40,607.85L87.20,614.05" stroke="#f88d14" stroke-width="1.35"/>
<line x1="54.40" y1="610.95" x2="67.10" y2="610.95" stroke="#000" stroke-width="1.15" stroke-dasharray="2.65 2.3"/>
<line x1="67.10" y1="610.95" x2="90.30" y2="610.95" stroke="#000" stroke-width="1.2"/>
<polygon points="55.35,616.39 56.13,618.24 58.00,617.49 57.24,619.35 59.10,620.14 57.24,620.92 58.00,622.79 56.13,622.03 55.35,623.89 54.57,622.03 52.70,622.79 53.46,620.92 51.60,620.14 53.46,619.35 52.70,617.49 54.57,618.24" fill="#1e7360"/><circle cx="55.35" cy="620.14" r="1.5" fill="#0b5a3f"/>
<path d="M55.50,620.14H61.50M58.50,617.14V623.14" stroke="#6e3290" stroke-width="1.2" fill="none"/>
<line x1="55.35" y1="620.14" x2="58.50" y2="620.14" stroke="#000" stroke-width="1.2"/>
<path d="M53.30,629.33H59.30M56.30,626.33V632.33" stroke="#6e3290" stroke-width="1.2" fill="none"/>
<polygon points="55.35,625.58 56.13,627.43 58.00,626.67 57.24,628.54 59.10,629.33 57.24,630.11 58.00,631.98 56.13,631.22 55.35,633.08 54.57,631.22 52.70,631.98 53.46,630.11 51.60,629.33 53.46,628.54 52.70,626.67 54.57,627.43" fill="#1e7360"/><circle cx="55.35" cy="629.33" r="1.5" fill="#0b5a3f"/>
<circle cx="73.20" cy="629.33" r="3.15" fill="#c8102e"/>
<line x1="55.35" y1="629.33" x2="73.20" y2="629.33" stroke="#000" stroke-width="1.2"/>
<path d="M53.30,638.51H59.30M56.30,635.51V641.51" stroke="#6e3290" stroke-width="1.2" fill="none"/>
<polygon points="55.35,634.76 56.13,636.62 58.00,635.86 57.24,637.73 59.10,638.51 57.24,639.30 58.00,641.17 56.13,640.41 55.35,642.26 54.57,640.41 52.70,641.17 53.46,639.30 51.60,638.51 53.46,637.73 52.70,635.86 54.57,636.62" fill="#1e7360"/><circle cx="55.35" cy="638.51" r="1.5" fill="#0b5a3f"/>
<rect x="92.10" y="635.41" width="6.20" height="6.20" fill="#fff" stroke="#f88d14" stroke-width="1.3"/><path d="M92.10,635.41L98.30,641.62M98.30,635.41L92.10,641.62" stroke="#f88d14" stroke-width="1.35"/>
<line x1="55.35" y1="638.51" x2="95.20" y2="638.51" stroke="#000" stroke-width="1.2"/>
<text x="6.6" y="319.9" class="lt">B</text>
<text transform="translate(15.5,478.0) rotate(-90) scale(0.75,1)" class="ax" text-anchor="middle">De-identified patient id</text>
<text transform="translate(217.9,669.50) scale(0.71,1)" class="ax" text-anchor="middle">Days from enrollment</text>
<circle cx="446.30" cy="453.40" r="3.15" fill="#c8102e"/>
<text x="452.4" y="455.40" class="lg">Time to infection 1</text>
<polygon points="443.20,466.62 449.40,466.62 446.30,460.73" fill="#124e90"/>
<text x="452.4" y="465.68" class="lg">Time to infection 2</text>
<rect x="443.40" y="471.06" width="5.8" height="5.8" fill="#2bb24c"/>
<text x="452.4" y="475.96" class="lg">Time to infection 3</text>
<path d="M443.30,484.24H449.30M446.30,481.24V487.24" stroke="#6e3290" stroke-width="1.2" fill="none"/>
<text x="452.4" y="486.24" class="lg">Time to progression</text>
<rect x="443.20" y="491.42" width="6.20" height="6.20" fill="#fff" stroke="#f88d14" stroke-width="1.3"/><path d="M443.20,491.42L449.40,497.62M449.40,491.42L443.20,497.62" stroke="#f88d14" stroke-width="1.35"/>
<text x="452.4" y="496.52" class="lg">Time to death</text>
<polygon points="445.80,501.05 446.58,502.91 448.45,502.15 447.69,504.02 449.55,504.80 447.69,505.58 448.45,507.45 446.58,506.69 445.80,508.55 445.02,506.69 443.15,507.45 443.91,505.58 442.05,504.80 443.91,504.02 443.15,502.15 445.02,502.91" fill="#1e7360"/><circle cx="445.80" cy="504.80" r="1.5" fill="#0b5a3f"/>
<text x="452.4" y="506.80" class="lg">Baseline</text>
</svg>
</body></html>
